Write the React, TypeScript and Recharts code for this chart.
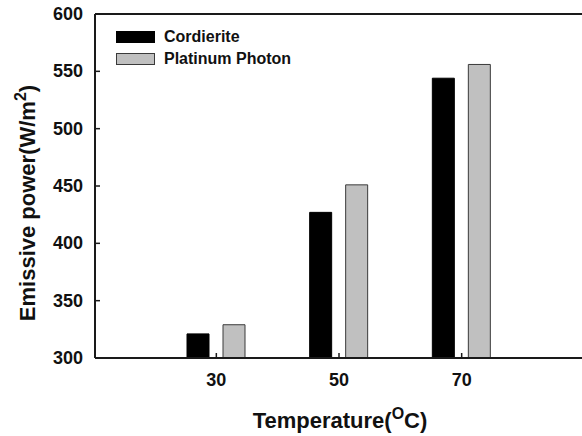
import React from "react";
import { BarChart, Bar, XAxis, YAxis, ReferenceLine } from "recharts";

const temperatures = ["30", "50", "70"];
const cordierite = [321, 427, 544];
const platinumPhoton = [329, 451, 556];
const yTicks = [300, 350, 400, 450, 500, 550, 600];

const series = [
  { key: "cordierite", name: "Cordierite", fill: "#000000", stroke: "#000000" },
  { key: "platinum", name: "Platinum Photon", fill: "#c0c0c0", stroke: "#3a3a3a" },
];

const data = temperatures.map((t, i) => ({
  temp: t,
  cordierite: cordierite[i],
  platinum: platinumPhoton[i],
}));

const FONT = "'Liberation Sans', Arial, sans-serif";
const AXIS = "#1a1a1a";

const YTick = ({ x, y, payload }: any) => (
  <g>
    <line x1={x} x2={x + 5} y1={y} y2={y} stroke={AXIS} strokeWidth={1.5} />
    <text
      x={x - 12}
      y={y}
      textAnchor="end"
      dominantBaseline="central"
      fontFamily={FONT}
      fontWeight="bold"
      fontSize={18}
      fill="#111"
    >
      {payload.value}
    </text>
  </g>
);

const XTick = ({ x, y, payload }: any) => (
  <g>
    <line x1={x} x2={x} y1={y} y2={y - 5} stroke={AXIS} strokeWidth={1.5} />
    <text
      x={x}
      y={y + 22}
      textAnchor="middle"
      dominantBaseline="central"
      fontFamily={FONT}
      fontWeight="bold"
      fontSize={18}
      fill="#111"
    >
      {payload.value}
    </text>
  </g>
);

const YLabel = () => (
  <text
    x={0}
    y={0}
    transform="translate(35, 203) rotate(-90)"
    textAnchor="middle"
    fontFamily={FONT}
    fontWeight="bold"
    fontSize={22}
    fill="#111"
  >
    Emissive power(W/m
    <tspan dy={-9} fontSize={16}>2</tspan>
    <tspan dy={9}>)</tspan>
  </text>
);

const XLabel = () => (
  <text
    x={340}
    y={428}
    textAnchor="middle"
    fontFamily={FONT}
    fontWeight="bold"
    fontSize={22}
    fill="#111"
  >
    Temperature(
    <tspan dy={-9} fontSize={16}>O</tspan>
    <tspan dy={9}>C)</tspan>
  </text>
);

export default function App() {
  return (
    <div style={{ position: "absolute", left: 0, top: 0, width: 582, height: 436, background: "#fff" }}>
      <BarChart
        width={582}
        height={436}
        data={data}
        margin={{ top: 14, right: 0, bottom: 0, left: 0 }}
        barSize={22}
        barGap={14}
      >
        <XAxis
          dataKey="temp"
          height={78}
          padding={{ left: 60, right: 59 }}
          stroke={AXIS}
          strokeWidth={2}
          tickLine={false}
          tickSize={0}
          tickMargin={0}
          tick={<XTick />}
          label={<XLabel />}
        />
        <YAxis
          width={95}
          domain={[300, 600]}
          ticks={yTicks}
          allowDataOverflow
          stroke={AXIS}
          strokeWidth={2}
          tickLine={false}
          tickSize={0}
          tickMargin={0}
          tick={<YTick />}
          label={<YLabel />}
        />
        <ReferenceLine y={600} stroke={AXIS} strokeWidth={2} />
        {series.map((s) => (
          <Bar
            key={s.key}
            dataKey={s.key}
            name={s.name}
            fill={s.fill}
            stroke={s.stroke}
            strokeWidth={1}
            isAnimationActive={false}
          />
        ))}
      </BarChart>
      <div style={{ position: "absolute", left: 116, top: 26, fontFamily: FONT }}>
        {series.map((s) => (
          <div key={s.key} style={{ display: "flex", alignItems: "center", height: 22 }}>
            <div
              style={{
                width: 37,
                height: 10,
                background: s.fill,
                border: `1px solid ${s.stroke}`,
                marginRight: 9,
              }}
            />
            <span style={{ fontSize: 16, fontWeight: "bold", color: "#111" }}>{s.name}</span>
          </div>
        ))}
      </div>
    </div>
  );
}
